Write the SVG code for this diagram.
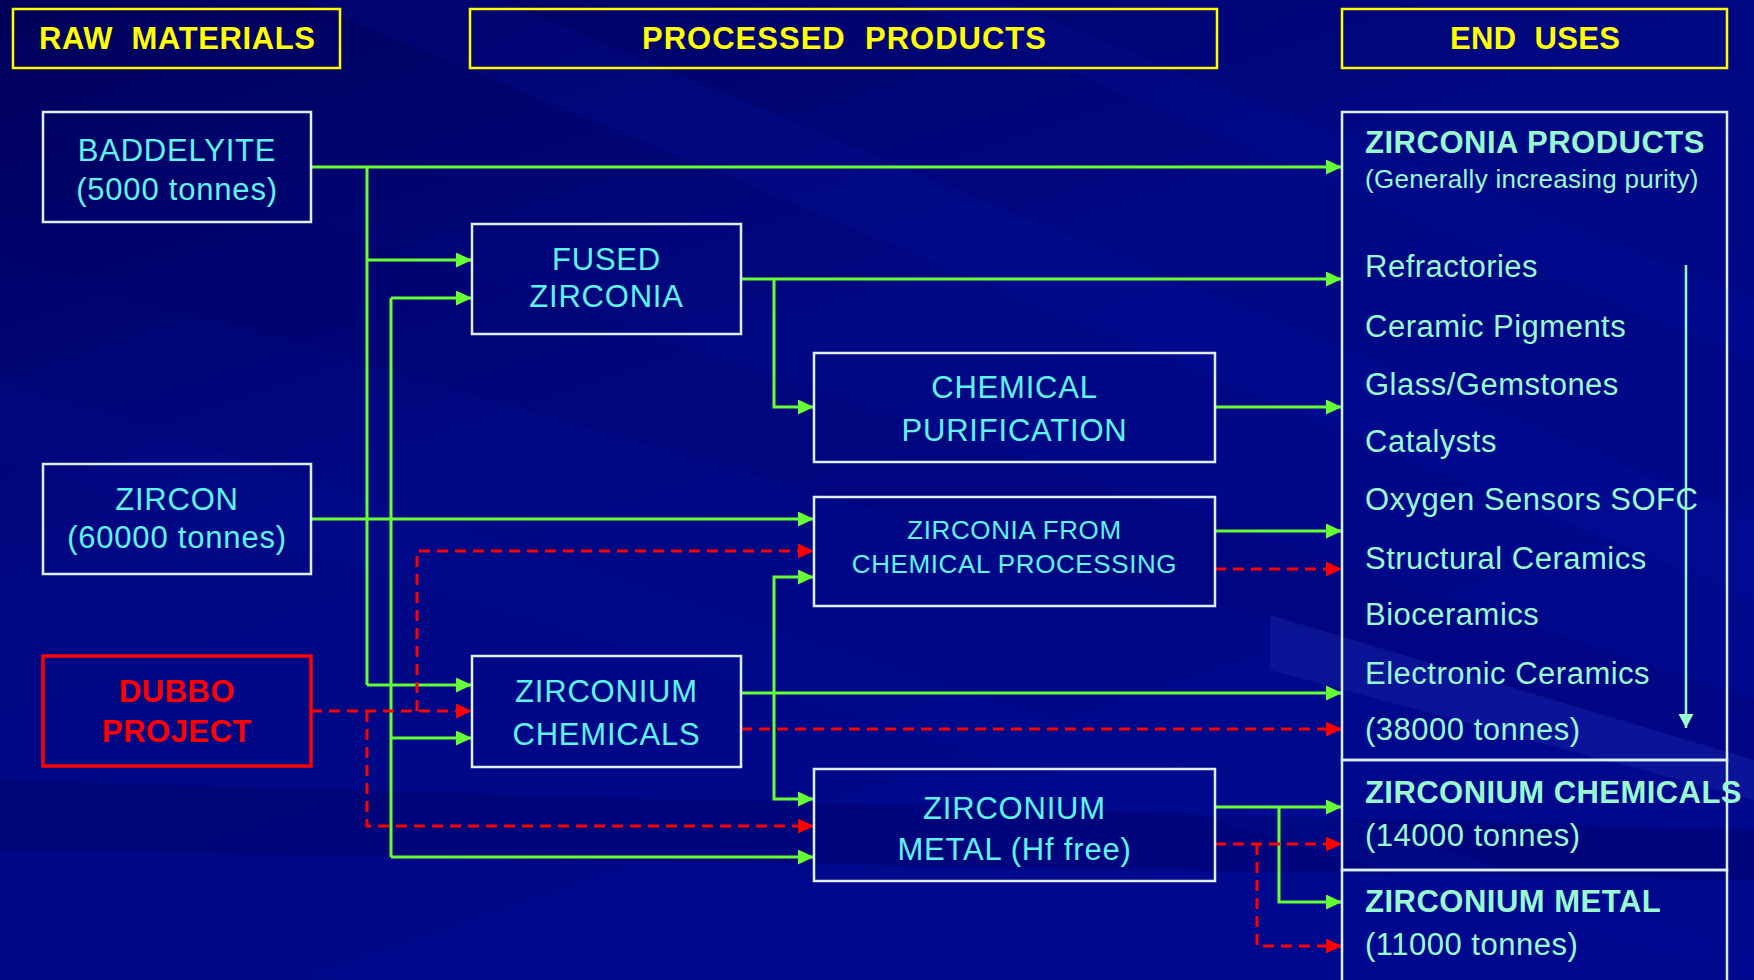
<svg xmlns="http://www.w3.org/2000/svg" width="1754" height="980" viewBox="0 0 1754 980">
<defs>
<linearGradient id="bg" x1="0" y1="0" x2="0.6" y2="1">
<stop offset="0" stop-color="#00005a"/>
<stop offset="0.45" stop-color="#000883"/>
<stop offset="1" stop-color="#00088e"/>
</linearGradient>
<marker id="ag" markerUnits="userSpaceOnUse" markerWidth="16" markerHeight="16" refX="16" refY="7.5" orient="auto"><path d="M0,0 L16,7.5 L0,15 z" fill="#66ff33"/></marker>
<marker id="ar" markerUnits="userSpaceOnUse" markerWidth="16" markerHeight="16" refX="16" refY="7.5" orient="auto"><path d="M0,0 L16,7.5 L0,15 z" fill="#ff0000"/></marker>
<marker id="am" markerUnits="userSpaceOnUse" markerWidth="16" markerHeight="16" refX="14" refY="7.5" orient="auto"><path d="M0,0 L14,7.5 L0,15 z" fill="#99ffcc"/></marker>
<style>
.hdr{fill:none;stroke:#ffff00;stroke-width:2.5}
.htx{fill:#ffff00;font-family:"Liberation Sans",Arial,sans-serif;font-weight:bold;font-size:31px}
.box{fill:none;stroke:#ddeeff;stroke-width:2.5}
.ntx{fill:#5ff3f7;font-family:"Liberation Sans",Arial,sans-serif;font-size:31px;text-anchor:middle;letter-spacing:0.8px}
.stx{font-size:26px;letter-spacing:0.6px}
.rbox{fill:none;stroke:#ff0000;stroke-width:3.5}
.rtx{fill:#ff0000;font-family:"Liberation Sans",Arial,sans-serif;font-weight:bold;font-size:31px;text-anchor:middle;letter-spacing:0.5px}
.etx{fill:#99f8d0;font-family:"Liberation Sans",Arial,sans-serif;font-size:31px;letter-spacing:0.5px}
.eb{font-weight:bold}
.g{fill:none;stroke:#66ff33;stroke-width:3;marker-end:url(#ag)}
.gn{fill:none;stroke:#66ff33;stroke-width:3}
.r{fill:none;stroke:#ff0000;stroke-width:3;stroke-dasharray:11 7;marker-end:url(#ar)}
.rn{fill:none;stroke:#ff0000;stroke-width:3;stroke-dasharray:11 7}
</style>
</defs>
<rect width="1754" height="980" fill="url(#bg)"/>
<g id="background-streaks" opacity="0.5">
<polygon points="0,120 1754,700 1754,760 0,260" fill="#000060" opacity="0.35"/>
<polygon points="500,0 1754,520 1754,600 300,0" fill="#0a14b0" opacity="0.35"/>
<polygon points="1000,0 1754,300 1754,360 900,0" fill="#0a14b0" opacity="0.3"/>
<polygon points="1270,615 1754,760 1754,800 1270,670" fill="#3040c0" opacity="0.45"/>
<polygon points="0,780 1754,830 1754,880 0,850" fill="#000050" opacity="0.5"/>
<polygon points="0,380 1754,950 1754,980 0,460" fill="#0a12a0" opacity="0.25"/>
</g>
<g id="header-raw">
<rect class="hdr" x="13" y="9" width="327" height="59"/>
<text class="htx" x="39" y="49" textLength="276" xml:space="preserve">RAW  MATERIALS</text>
</g>
<g id="header-processed">
<rect class="hdr" x="470" y="9" width="747" height="59"/>
<text class="htx" x="642" y="49" textLength="404" xml:space="preserve">PROCESSED  PRODUCTS</text>
</g>
<g id="header-end">
<rect class="hdr" x="1342" y="9" width="385" height="59"/>
<text class="htx" x="1450" y="49" textLength="170" xml:space="preserve">END  USES</text>
</g>
<g id="connectors">
<path class="g" d="M311,167 H1342"/>
<path class="gn" d="M367,167 V685"/>
<path class="g" d="M367,260 H472"/>
<path class="g" d="M367,685 H472"/>
<path class="g" d="M391,298 H472"/>
<path class="gn" d="M391,298 V857"/>
<path class="g" d="M391,738 H472"/>
<path class="g" d="M391,857 H814"/>
<path class="g" d="M311,519 H814"/>
<path class="r" d="M311,711 H472"/>
<path class="r" d="M417,711 V551 H814"/>
<path class="r" d="M367,711 V826 H814"/>
<path class="g" d="M741,279 H1342"/>
<path class="g" d="M774,279 V407 H814"/>
<path class="g" d="M1215,407 H1342"/>
<path class="g" d="M1215,531 H1342"/>
<path class="r" d="M1215,569 H1342"/>
<path class="g" d="M741,693 H1342"/>
<path class="r" d="M741,729 H1342"/>
<path class="g" d="M774,693 V577 H814"/>
<path class="g" d="M774,693 V799 H814"/>
<path class="g" d="M1215,807 H1342"/>
<path class="g" d="M1279,807 V902 H1342"/>
<path class="r" d="M1215,844 H1342"/>
<path class="r" d="M1257,844 V946 H1342"/>
</g>
<g id="baddelyite">
<rect class="box" x="43" y="112" width="268" height="110"/>
<text class="ntx" x="177" y="161">BADDELYITE</text>
<text class="ntx" x="177" y="200">(5000 tonnes)</text>
</g>
<g id="zircon">
<rect class="box" x="43" y="464" width="268" height="110"/>
<text class="ntx" x="177" y="510">ZIRCON</text>
<text class="ntx" x="177" y="548">(60000 tonnes)</text>
</g>
<g id="dubbo">
<rect class="rbox" x="43" y="656" width="268" height="110"/>
<text class="rtx" x="177" y="702">DUBBO</text>
<text class="rtx" x="177" y="742">PROJECT</text>
</g>
<g id="fused-zirconia">
<rect class="box" x="472" y="224" width="269" height="110"/>
<text class="ntx" x="606.5" y="270">FUSED</text>
<text class="ntx" x="606.5" y="307">ZIRCONIA</text>
</g>
<g id="chemical-purification">
<rect class="box" x="814" y="353" width="401" height="109"/>
<text class="ntx" x="1014.5" y="398">CHEMICAL</text>
<text class="ntx" x="1014.5" y="441">PURIFICATION</text>
</g>
<g id="zirconia-chem-processing">
<rect class="box" x="814" y="497" width="401" height="109"/>
<text class="ntx stx" x="1014.5" y="539">ZIRCONIA FROM</text>
<text class="ntx stx" x="1014.5" y="573">CHEMICAL PROCESSING</text>
</g>
<g id="zirconium-chemicals">
<rect class="box" x="472" y="656" width="269" height="111"/>
<text class="ntx" x="606.5" y="702">ZIRCONIUM</text>
<text class="ntx" x="606.5" y="745">CHEMICALS</text>
</g>
<g id="zirconium-metal">
<rect class="box" x="814" y="769" width="401" height="112"/>
<text class="ntx" x="1014.5" y="819">ZIRCONIUM</text>
<text class="ntx" x="1014.5" y="860">METAL (Hf free)</text>
</g>
<g id="end-zirconia-products">
<rect class="box" x="1342" y="112" width="385" height="648"/>
<text class="etx eb" x="1365" y="153" textLength="340">ZIRCONIA PRODUCTS</text>
<text class="etx" x="1365" y="188" style="font-size:26px;letter-spacing:0.3px">(Generally increasing purity)</text>
<text class="etx" x="1365" y="277">Refractories</text>
<text class="etx" x="1365" y="337">Ceramic Pigments</text>
<text class="etx" x="1365" y="395">Glass/Gemstones</text>
<text class="etx" x="1365" y="452">Catalysts</text>
<text class="etx" x="1365" y="510">Oxygen Sensors SOFC</text>
<text class="etx" x="1365" y="569">Structural Ceramics</text>
<text class="etx" x="1365" y="625">Bioceramics</text>
<text class="etx" x="1365" y="684">Electronic Ceramics</text>
<text class="etx" x="1365" y="740">(38000 tonnes)</text>
<path d="M1686,265 V728" fill="none" stroke="#99f8d0" stroke-width="2.5" marker-end="url(#am)"/>
</g>
<g id="end-zirconium-chemicals">
<rect class="box" x="1342" y="760" width="385" height="110"/>
<text class="etx eb" x="1365" y="803" textLength="377">ZIRCONIUM CHEMICALS</text>
<text class="etx" x="1365" y="846">(14000 tonnes)</text>
</g>
<g id="end-zirconium-metal">
<rect class="box" x="1342" y="870" width="385" height="130"/>
<text class="etx eb" x="1365" y="912">ZIRCONIUM METAL</text>
<text class="etx" x="1365" y="955">(11000 tonnes)</text>
</g>
</svg>
